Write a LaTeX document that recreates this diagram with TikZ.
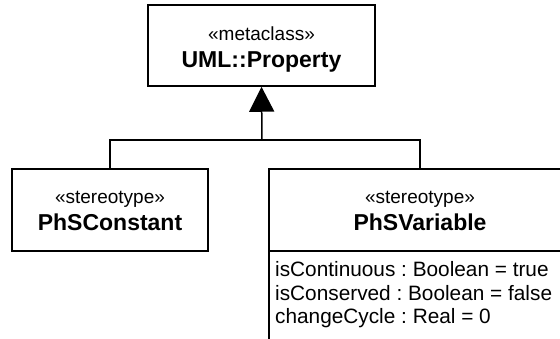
\documentclass[tikz,border=0pt]{standalone}
\usepackage{fontspec}
\setmainfont{Liberation Sans}
\usetikzlibrary{arrows.meta}
\frenchspacing
\begin{document}
\begin{tikzpicture}[x=1pt,y=-1pt,
  box/.style={draw=black,line width=1.5pt,rectangle,inner sep=0pt},
  st/.style={anchor=base,inner sep=0pt,font=\fontsize{19}{22}\selectfont},
  nm/.style={anchor=base,inner sep=0pt,font=\fontsize{23}{26}\selectfont\bfseries},
  attr/.style={anchor=base west,inner sep=0pt,font=\fontsize{20.8}{24}\selectfont},
  conn/.style={line width=1.5pt,draw=black}]
\path[use as bounding box] (0,0) rectangle (560,338);
\clip (0,0) rectangle (560,338);
% boxes
\node[box,minimum width=227pt,minimum height=81pt] (prop) at (261.5,45.5) {};
\node[box,minimum width=196pt,minimum height=82pt] (pc) at (110,210) {};
\node[box,minimum width=302pt,minimum height=82pt] (rvhead) at (420,210) {};
\node[box,minimum width=302pt,minimum height=109pt] (rvattr) at (420,305.5) {};
% texts
\node[st] (propst) at (261.5,40) {«metaclass»};
\node[nm] (propnm) at (261.5,67) {UML::Property};
\node[st] (pcst) at (110,203) {«stereotype»};
\node[nm] (pcnm) at (110,230) {PhSConstant};
\node[st] (rvst) at (420,203) {«stereotype»};
\node[nm] (rvnm) at (420,230) {PhSVariable};
\node[attr] (a1) at (275,276) {isContinuous : Boolean = true};
\node[attr] (a2) at (275,300) {isConserved : Boolean = false};
\node[attr] (a3) at (275,323) {changeCycle : Real = 0};
% generalization
\coordinate (jn) at (262,140);
\draw[conn] (pc.north) |- (jn);
\draw[conn] (rvhead.north) |- (jn);
\draw[conn,-{Triangle[width=25pt,length=25pt]}] (jn) -- (prop.south);
\end{tikzpicture}
\end{document}
